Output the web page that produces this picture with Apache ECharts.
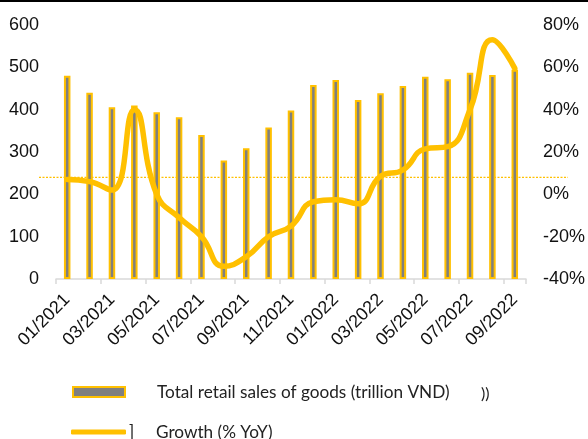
<!DOCTYPE html>
<html>
<head>
<meta charset="utf-8">
<script src="https://cdn.jsdelivr.net/npm/echarts@6/dist/echarts.min.js"></script>
<style>
  html, body { margin: 0; padding: 0; background: #fff; }
  #chart { width: 588px; height: 439px; }
</style>
</head>
<body>
<div id="chart"></div>
<script>
// Monthly retail figures, Jan 2021 – Sep 2022
const months = [
  '01/2021', '02/2021', '03/2021', '04/2021', '05/2021', '06/2021', '07/2021',
  '08/2021', '09/2021', '10/2021', '11/2021', '12/2021', '01/2022', '02/2022',
  '03/2022', '04/2022', '05/2022', '06/2022', '07/2022', '08/2022', '09/2022'
];
// Total retail sales of goods, trillion VND
const retailSales = [480, 440, 406, 410, 394, 382, 340, 280, 309, 358, 398,
                     458, 470, 423, 439, 456, 478, 472, 487, 482, 494];
// Year-on-year growth, %
const growthYoY = [7, 6, 2, 40, 0, -11, -20, -34, -29.5, -20, -15,
                   -3.5, -2.5, -4.5, 8.5, 11.5, 21.5, 22.5, 40, 73, 59.5];
// Reference level for growth (dotted guide), %
const growthGuide = 8;

const salesName = 'Total retail sales of goods (trillion VND)';
const growthName = 'Growth (% YoY)';

const gold = '#FFC000';
const grey = '#7F7F7F';
const axisFont = 'Liberation Sans, Arial, sans-serif';
const legendFont = 'Lato, Carlito, Calibri, sans-serif';

const chart = echarts.init(document.getElementById('chart'), null, { renderer: 'canvas' });

chart.setOption({
  animation: false,
  backgroundColor: '#fff',
  grid: { left: 56, right: 61, top: 25, bottom: 160, containLabel: false },
  legend: [
    {
      left: 72, top: 378, padding: 0,
      itemWidth: 52, itemHeight: 10,
      textStyle: { fontFamily: legendFont, fontSize: 17.2, color: '#222', lineHeight: 20, padding: [0, 0, 8, 27] },
      data: [{ name: salesName, icon: 'rect' }]
    },
    {
      left: 71, top: 422, padding: 0,
      itemWidth: 55, itemHeight: 5,
      textStyle: { fontFamily: legendFont, fontSize: 17.2, color: '#222', lineHeight: 20, padding: [0, 0, 0, 25] },
      data: [{ name: growthName, icon: 'roundRect' }],
      itemStyle: { color: gold }
    }
  ],
  xAxis: {
    type: 'category',
    data: months,
    boundaryGap: true,
    axisLine: { lineStyle: { color: '#D9D9D9', width: 1.5 } },
    axisTick: { show: true, interval: 1, length: 5, lineStyle: { color: '#D9D9D9', width: 1.5 } },
    axisLabel: {
      interval: 1,
      rotate: 45,
      margin: 18,
      fontFamily: axisFont,
      fontSize: 18,
      color: '#111'
    }
  },
  yAxis: [
    {
      type: 'value',
      min: 0, max: 600, interval: 100,
      splitLine: { show: false },
      axisLine: { show: false },
      axisTick: { show: false },
      axisLabel: { margin: 17, fontFamily: axisFont, fontSize: 18, color: '#111' }
    },
    {
      type: 'value',
      min: -40, max: 80, interval: 20,
      splitLine: { show: false },
      axisLine: { show: false },
      axisTick: { show: false },
      axisLabel: { margin: 17, fontFamily: axisFont, fontSize: 18, color: '#111', formatter: '{value}%' }
    }
  ],
  series: [
    {
      name: salesName,
      type: 'bar',
      data: retailSales,
      barWidth: 6.5,
      itemStyle: { color: grey, borderColor: gold, borderWidth: 2 }
    },
    {
      name: growthName,
      type: 'line',
      yAxisIndex: 1,
      data: growthYoY,
      smooth: true,
      symbol: 'none',
      lineStyle: { color: gold, width: 5.5, cap: 'round' },
      itemStyle: { color: gold }
    }
  ]
});

// Dotted guide at the reference growth level, running past both axes
const guideY = chart.convertToPixel({ yAxisIndex: 1 }, growthGuide);
chart.setOption({
  graphic: [
    { type: 'rect', left: 0, top: 0, shape: { width: 588, height: 2 }, style: { fill: '#000' }, silent: true },
    {
      type: 'line',
      shape: { x1: 39, y1: guideY, x2: 568, y2: guideY },
      style: { stroke: gold, lineWidth: 1.2, lineDash: [2, 1.5] },
      silent: true
    },
    { type: 'text', left: 481, top: 386, style: { text: '))', font: '16px ' + legendFont, fill: '#222' }, silent: true },
    { type: 'text', left: 129, top: 424, style: { text: ']', font: '17px ' + legendFont, fill: '#222' }, silent: true }
  ]
});
</script>
</body>
</html>
